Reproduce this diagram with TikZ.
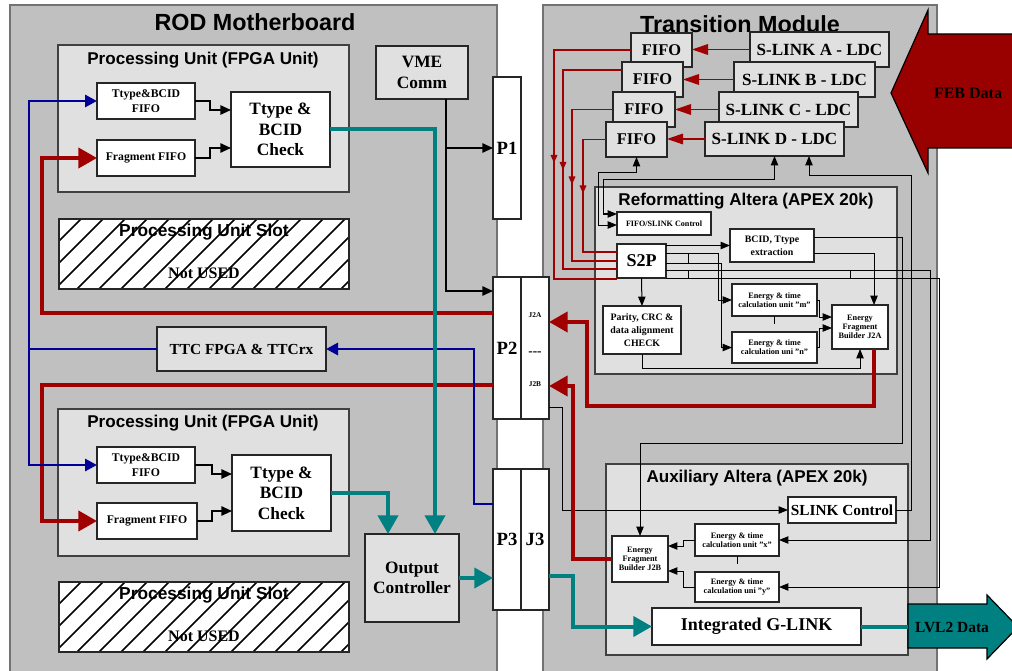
\documentclass[tikz,border=0pt]{standalone}
\usepackage{fontspec}
\setmainfont{Liberation Serif}
\setsansfont{Liberation Sans}
\usetikzlibrary{arrows.meta,positioning,calc,decorations.markings}
\definecolor{boardgray}{HTML}{C0C0C0}
\definecolor{panelgray}{HTML}{E0E0E0}
\definecolor{rodred}{HTML}{A00000}
\definecolor{rodblue}{HTML}{000099}
\definecolor{rodteal}{HTML}{008080}
\definecolor{febred}{HTML}{990000}

\begin{document}
\begin{tikzpicture}[
		x=0.75pt,
		y=-0.75pt,
		blk/.style args={#1,#2,#3,#4}{at={({(#1+#3)/2},{(#2+#4)/2})},minimum width={(#3-#1)*0.75pt},minimum height={(#4-#2)*0.75pt}},
		board/.style={draw=black!55,line width=1pt,fill=boardgray,inner sep=0pt,outer sep=0pt},
		panel/.style={draw=black!75,line width=0.8pt,fill=panelgray,inner sep=0pt,outer sep=0pt},
		lbox/.style={draw=black!85,line width=0.9pt,fill=panelgray,inner sep=0pt,outer sep=0pt,align=center,font=\bfseries\fontsize{13}{15.5}\selectfont},
		wbox/.style={draw=black!85,line width=0.9pt,fill=white,inner sep=0pt,outer sep=0pt,align=center,font=\bfseries\fontsize{13}{15.5}\selectfont},
		bigtitle/.style={font=\sffamily\bfseries\fontsize{17.5}{20}\selectfont},
		subtitle/.style={font=\sffamily\bfseries\fontsize{12.8}{15}\selectfont},
		smlbl/.style={font=\bfseries\fontsize{8.8}{11}\selectfont},
		midlbl/.style={font=\bfseries\fontsize{7.4}{9.8}\selectfont},
		tinylbl/.style={font=\bfseries\fontsize{6.2}{6.5}\selectfont},
		hatch/.style={line width=1.3pt},
		kwire/.style={draw=black,line width=1.3pt},
		twire/.style={draw=black,line width=0.75pt},
		rwire/.style={draw=rodred,line width=0.8pt},
		redw/.style={draw=rodred,line width=3pt},
		bluew/.style={draw=rodblue,line width=2.2pt},
		tealw/.style={draw=rodteal,line width=3pt},
		karr/.style={-{Triangle[length=8pt,width=7pt]}},
		tarr/.style={-{Triangle[length=7pt,width=5.5pt]}},
		tboth/.style={{Triangle[length=7pt,width=5.5pt]}-{Triangle[length=7pt,width=5.5pt]}},
		smarr/.style={-{Triangle[length=12pt,width=8pt]}},
		bigarr/.style={-{Triangle[length=14pt,width=15pt]}},
		bluearr/.style={-{Triangle[length=9pt,width=9pt]}},
		midarr/.style={postaction={decorate},decoration={markings,mark=at position #1 with {\arrow{Triangle[length=6pt,width=5pt]}}}}
	]
	\useasboundingbox (0,0) rectangle (1012,670);
	
	% Boards
	\node[board,blk={10,5,497,672}] (rod) {};
	\node[board,blk={543,5,937,672}] (tm) {};
	\node[bigtitle] (rodtitle) at (255,22) {ROD Motherboard};
	\node[bigtitle] (tmtitle) at (740,24) {Transition Module};
	
	% Processing unit, top
	\node[panel,blk={58,45,349,192}] (pu1) {};
	\node[subtitle] (pu1title) at (203,60) {Processing Unit (FPGA Unit)};
	\node[wbox,smlbl,blk={97,83,195,119}] (ttf1) {Ttype\&BCID\\FIFO};
	\node[wbox,smlbl,blk={97,140,195,176}] (frf1) {Fragment FIFO};
	\node[wbox,blk={231,92,330,167}] (chk1) {Ttype \&\\BCID\\Check};
	
	\node[lbox,blk={376,46,468,99}] (vme) {VME\\Comm};
	
	% Empty slot, top
	\node[wbox,blk={59,219,349,289}] (slot1) {};
	\begin{scope}
		\clip (59,219) rectangle (349,289);
		\foreach \i in {0,...,17}
		\draw[hatch] ({-11+22*\i},289) -- ++(70,-70);
	\end{scope}
	\draw[draw=black!85,line width=0.9pt] (slot1.north west) rectangle (slot1.south east);
	\node[font=\sffamily\bfseries\fontsize{13}{15}\selectfont] (slot1a) at (204,232) {Processing Unit Slot};
	\node[font=\bfseries\fontsize{12}{14}\selectfont] (slot1b) at (204,273) {Not USED};
	
	\node[lbox,font=\bfseries\fontsize{11.5}{14}\selectfont,blk={157,327,326,371}] (ttc) {TTC FPGA \& TTCrx};
	
	% Processing unit, bottom
	\node[panel,blk={58,409,349,556}] (pu2) {};
	\node[subtitle] (pu2title) at (203,423) {Processing Unit (FPGA Unit)};
	\node[wbox,smlbl,blk={97,447,195,483}] (ttf2) {Ttype\&BCID\\FIFO};
	\node[wbox,smlbl,blk={97,503,197,539}] (frf2) {Fragment FIFO};
	\node[wbox,blk={232,455,331,531}] (chk2) {Ttype \&\\BCID\\Check};
	
	\node[lbox,blk={365,534,459,622}] (outc) {Output\\Controller};
	
	% Empty slot, bottom
	\node[wbox,blk={59,582,349,652}] (slot2) {};
	\begin{scope}
		\clip (59,582) rectangle (349,652);
		\foreach \i in {0,...,17}
		\draw[hatch] ({-11+22*\i},652) -- ++(70,-70);
	\end{scope}
	\draw[draw=black!85,line width=0.9pt] (slot2.north west) rectangle (slot2.south east);
	\node[font=\sffamily\bfseries\fontsize{13}{15}\selectfont] (slot2a) at (204,595) {Processing Unit Slot};
	\node[font=\bfseries\fontsize{12}{14}\selectfont] (slot2b) at (204,636) {Not USED};
	
	% Backplane connectors
	\node[wbox,font=\bfseries\fontsize{14}{16}\selectfont,blk={493,77,521,219}] (p1) {P1};
	\node[wbox,font=\bfseries\fontsize{14}{16}\selectfont,blk={493,277,521,419}] (p2) {P2};
	\node[wbox,blk={521,277,549,419}] (j2) {};
	\node[font=\bfseries\fontsize{5.5}{6}\selectfont] (j2alabel) at (535,315) {J2A};
	\node[font=\bfseries\fontsize{10}{12}\selectfont] (j2sep) at (535,354) {-{}-{}-};
	\node[font=\bfseries\fontsize{5.5}{6}\selectfont] (j2blabel) at (535,384) {J2B};
	\node[wbox,font=\bfseries\fontsize{14}{16}\selectfont,blk={493,469,521,610}] (p3) {P3};
	\node[wbox,font=\bfseries\fontsize{14}{16}\selectfont,blk={521,469,549,610}] (j3) {J3};
	
	% Transition module: reformatting altera
	\node[panel,blk={595,187,897,374}] (reform) {};
	\node[subtitle] (reformtitle) at (746,201) {Reformatting Altera (APEX 20k)};
	\node[wbox,font=\bfseries\fontsize{6.1}{7}\selectfont,blk={617,212,711,235}] (fsc) {FIFO/SLINK Control};
	\node[wbox,font=\bfseries\fontsize{13.5}{15}\selectfont,blk={617,244,666,278}] (s2p) {S2P};
	\node[wbox,midlbl,blk={730,229,814,262}] (bcid) {BCID, Ttype\\extraction};
	\node[wbox,midlbl,blk={603,306,681,354}] (parity) {Parity, CRC \&\\data alignment\\CHECK};
	\node[wbox,tinylbl,blk={732,284,817,316}] (enm) {Energy \& time\\calculation unit "m"};
	\node[wbox,tinylbl,blk={732,332,817,363}] (enn) {Energy \& time\\calculation uni "n"};
	\node[wbox,tinylbl,blk={832,305,888,349}] (efba) {Energy\\Fragment\\Builder J2A};
	
	% Transition module: auxiliary altera
	\node[panel,blk={606,464,908,655}] (aux) {};
	\node[subtitle] (auxtitle) at (757,478) {Auxiliary Altera (APEX 20k)};
	\node[wbox,font=\bfseries\fontsize{11.5}{14}\selectfont,blk={788,497,896,523}] (slc) {SLINK Control};
	\node[wbox,tinylbl,blk={612,536,668,582}] (efbb) {Energy\\Fragment\\Builder J2B};
	\node[wbox,tinylbl,blk={695,524,779,556}] (enx) {Energy \& time\\calculation unit "x"};
	\node[wbox,tinylbl,blk={695,572,779,602}] (eny) {Energy \& time\\calculation uni "y"};
	\node[wbox,font=\bfseries\fontsize{13.5}{15}\selectfont,blk={652,608,861,645}] (glink) {Integrated G-LINK};
	
	% S-LINK receivers and FIFOs
	\node[lbox,font=\bfseries\fontsize{12.8}{15}\selectfont,blk={750,32,889,67}] (slinka) {S-LINK A - LDC};
	\node[lbox,font=\bfseries\fontsize{12.3}{15}\selectfont,blk={631,33,692,67}] (fifoa) {FIFO};
	\node[lbox,font=\bfseries\fontsize{12.8}{15}\selectfont,blk={734,62,875,97}] (slinkb) {S-LINK B - LDC};
	\node[lbox,font=\bfseries\fontsize{12.3}{15}\selectfont,blk={622,62,683,97}] (fifob) {FIFO};
	\node[lbox,font=\bfseries\fontsize{12.8}{15}\selectfont,blk={719,92,858,127}] (slinkc) {S-LINK C - LDC};
	\node[lbox,font=\bfseries\fontsize{12.3}{15}\selectfont,blk={613,92,675,127}] (fifoc) {FIFO};
	\node[lbox,font=\bfseries\fontsize{12.8}{15}\selectfont,blk={705,122,844,156}] (slinkd) {S-LINK D - LDC};
	\node[lbox,font=\bfseries\fontsize{12.3}{15}\selectfont,blk={606,122,667,157}] (fifod) {FIFO};
	
	% ROD wiring
	\draw[kwire,karr] (ttf1.east) -| (210,110) -- (chk1.west |- 0,110);
	\draw[kwire,karr] (frf1.east) -| (210,148) -- (chk1.west |- 0,148);
	\draw[kwire,karr] (ttf2.east) -| (212,474) -- (chk2.west |- 0,474);
	\draw[kwire,karr] (frf2.east) -| (212,511) -- (chk2.west |- 0,511);
	\draw[kwire,karr] (vme.south -| 446,0) |- (p2.west |- 0,291);
	\draw[kwire,karr] (446,148) -- (p1.west);
	
	\draw[redw,bigarr] (p2.west |- 0,313) -| (42,158) -- (frf1.west);
	\draw[redw,bigarr] (p2.west |- 0,385) -| (42,521) -- (frf2.west);
	
	\coordinate (bluejoin) at (29,349);
	\draw[bluew] (ttc.west) -- (bluejoin);
	\draw[bluew,bluearr] (bluejoin) |- (ttf1.west);
	\draw[bluew,bluearr] (bluejoin) |- (ttf2.west);
	\draw[bluew,bluearr] (p3.west |- 0,504) -| (474,349) -- (ttc.east);
	
	\draw[tealw,bigarr] (chk1.east) -| (outc.north -| 435,0);
	\draw[tealw,bigarr] (chk2.east) -| (outc.north -| 388,0);
	\draw[tealw,bigarr] (outc.east) -- (p3.west |- outc.east);
	
	% Transition module wiring
	\foreach \n in {a,b,c,d}
	\draw[rwire,smarr] (slink\n.west) -- (fifo\n.east |- slink\n.west);
	
	\draw[rwire,midarr=142.5pt] (fifoa.west) -| (554,279) -- (s2p.west |- 0,279);
	\draw[rwire,midarr=119.25pt] (fifob.west |- 0,70) -| (563,269) -- (s2p.west |- 0,269);
	\draw[rwire,midarr=87pt] (fifoc.west) -| (572,261) -- (s2p.west |- 0,261);
	\draw[rwire,midarr=57.75pt] (fifod.west) -| (583,252) -- (s2p.west |- 0,252);
	
	\draw[twire,tboth] (fifod.south) |- (598,173) |- (fsc.west |- 0,225);
	\draw[twire,tboth] (slinkd.south) |- (603,180) |- (fsc.west |- 0,214);
	\draw[twire,tarr] (slc.east) -| (911,176) -| (slinkd.south -| 809,0);
	
	\draw[twire,tarr] (s2p.east |- bcid.west) -- (bcid.west);
	\draw[twire,tarr] (s2p.east |- 0,253) -| (718,300) -- (enm.west);
	\draw[twire,tarr] (s2p.east |- 0,263) -| (721,347.5) -- (enn.west);
	\draw[twire,tarr] (s2p.east |- 0,270) -| (930,540) -- (enx.east);
	\draw[twire,tarr] (s2p.south east) -| (939,587) -- (eny.east);
	\draw[twire,tarr] (s2p.south) -- (parity.north);
	\draw[twire] (688,253) -- (688,263) (688,270) -- (688,278) (850,270) -- (850,278);
	\draw[twire] (enm.south) -- ++(0,8);
	\draw[twire] (enx.south) -- ++(0,8);
	
	\draw[twire,tarr] (enm.east) -- (819,300) |- (efba.west |- 0,317);
	\draw[twire,tarr] (enn.east) -- (819,347.5) |- (efba.west |- 0,328);
	\draw[twire,tarr] (parity.south) -- ++(0,14) -| (efba.south);
	\draw[twire,tarr] (bcid.east |- 0,253) -| (efba.north -| 874,0);
	\draw[twire,tarr] (bcid.east |- 0,237) -| (902,443) -| (efbb.north);
	\draw[twire,tarr] (j2.east |- 0,407) -| (562,510) -- (slc.west);
	\draw[twire,tarr] (enx.west) -- (683,540) |- (efbb.east |- 0,546);
	\draw[twire,tarr] (eny.west) -- (683,587) |- (efbb.east |- 0,571);
	
	\draw[redw,bigarr] (efba.south -| 874,0) -- (874,406) -| (587,322) -- (j2.east |- 0,322);
	\draw[redw,bigarr] (efbb.west) -| (573,386) -- (j2.east |- 0,386);
	
	\draw[tealw,bigarr] (j3.east |- 0,576) -| (573,626.5) -- (glink.west);
	
	% Big data arrows
	\draw[line width=0.9pt,fill=febred] (891,93) -- (928,10) -- (928,34) -- (1016,34)
	-- (1016,148) -- (928,148) -- (928,173) -- cycle;
	\node[font=\bfseries\fontsize{12}{14}\selectfont] (febdata) at (968,93) {FEB Data};
	
	\coordinate (lvl2in) at (908,626.5);
	\draw[line width=0.9pt,fill=rodteal] (lvl2in |- 0,604) -- (987,604) -- (987,595) -- (1018,627)
	-- (987,659) -- (987,648) -- (lvl2in |- 0,648) -- cycle;
	\draw[tealw] (glink.east) -- (lvl2in);
	\node[font=\bfseries\fontsize{11.6}{14}\selectfont] (lvl2data) at (952,627) {LVL2 Data};
	
\end{tikzpicture}
\end{document}
